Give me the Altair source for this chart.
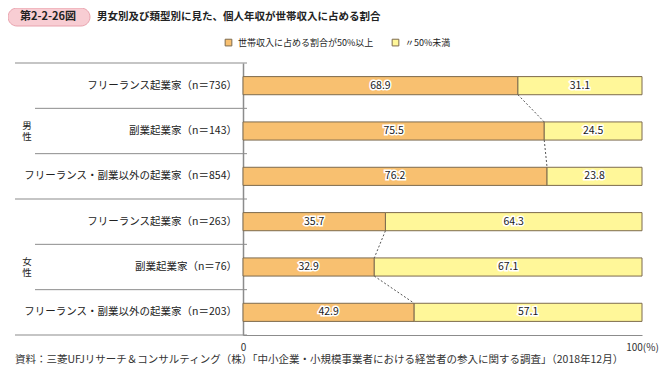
import altair as alt
import pandas as pd

FONT = "Noto Sans CJK JP"

categories = [
    "フリーランス起業家（n＝736）",
    "副業起業家（n＝143）",
    "フリーランス・副業以外の起業家（n＝854）",
    "フリーランス起業家（n＝263）",
    "副業起業家（n＝76）",
    "フリーランス・副業以外の起業家（n＝203）",
]
groups = ["男性", "男性", "男性", "女性", "女性", "女性"]
share_over = [68.9, 75.5, 76.2, 35.7, 32.9, 42.9]
share_under = [31.1, 24.5, 23.8, 64.3, 67.1, 57.1]
series = ["世帯収入に占める割合が50%以上", "〃50%未満"]
colors = ["#F8C070", "#FFF799"]
x_ticks = [0, 100]
title_tag = "第2-2-26図"
title_text = "男女別及び類型別に見た、個人年収が世帯収入に占める割合"
source_text = "資料：三菱UFJリサーチ＆コンサルティング（株）「中小企業・小規模事業者における経営者の参入に関する調査」（2018年12月）"

# ---- tables built from the arrays ----
bar_rows = []
for i, (o, u) in enumerate(zip(share_over, share_under)):
    bar_rows.append(dict(row=i, series=series[0], x0=0.0, x1=o, v=o, mid=o / 2,
                         yt=i + 0.3, yb=i + 0.7, yc=i + 0.5))
    bar_rows.append(dict(row=i, series=series[1], x0=o, x1=o + u, v=u, mid=o + u / 2,
                         yt=i + 0.3, yb=i + 0.7, yc=i + 0.5))
bars_df = pd.DataFrame(bar_rows)

cat_df = pd.DataFrame({"cat": categories, "yc": [i + 0.5 for i in range(len(categories))]})

conn = []
for i in range(len(share_over) - 1):
    if groups[i] == groups[i + 1]:
        conn.append(dict(xa=share_over[i], xb=share_over[i + 1], ya=i + 0.7, yb=i + 1.3))
conn_df = pd.DataFrame(conn)

group_names = list(dict.fromkeys(groups))
grp_df = pd.DataFrame({
    "g": ["\n".join(list(g)) for g in group_names],
    "yc": [sum(i for i, x in enumerate(groups) if x == g) / groups.count(g) + 0.4 for g in group_names],
})

major_b, minor_b = [0], []
for i in range(1, len(groups)):
    (major_b if groups[i] != groups[i - 1] else minor_b).append(i)
major_b.append(len(groups))
major_df = pd.DataFrame({"yy": major_b})
minor_df = pd.DataFrame({"yy": minor_b})

yscale = alt.Scale(domain=[0, len(categories)], reverse=True, nice=False, zero=False)
xscale = alt.Scale(domain=[0, 100], nice=False)

x_axis = alt.Axis(values=x_ticks, grid=False, ticks=False, labelFlush=False,
                  labelExpr="datum.value == 100 ? '100(%)' : '0'",
                  domainColor="#8c8c8c", domainWidth=1.2, title=None,
                  labelFont=FONT, labelFontSize=10, labelColor="#333",
                  labelPadding=7)
y_axis = alt.Axis(labels=False, ticks=False, grid=False, title=None,
                  domainColor="#8c8c8c", domainWidth=1.5)


def X(f):
    return alt.X(f, scale=xscale, axis=x_axis)


def Y(f):
    return alt.Y(f, scale=yscale, axis=y_axis)


bars = alt.Chart(bars_df).mark_bar(stroke="#7d6b4e", strokeWidth=1).encode(
    x=X("x0:Q"), x2="x1:Q",
    y=Y("yt:Q"), y2="yb:Q",
    color=alt.Color("series:N", scale=alt.Scale(domain=series, range=colors),
                    legend=alt.Legend(orient="none", legendX=-19, legendY=-25,
                                      direction="horizontal", title=None,
                                      symbolType="square", symbolSize=45,
                                      symbolStrokeColor="#7d6b4e", symbolStrokeWidth=1,
                                      labelFont=FONT, labelFontSize=9, labelColor="#222",
                                      columnPadding=16, labelOffset=5)),
)

val_halo = alt.Chart(bars_df).mark_text(font=FONT, fontSize=10.5, stroke="white",
                                        strokeWidth=3, color="white").encode(
    x=X("mid:Q"), y=Y("yc:Q"), text=alt.Text("v:Q", format=".1f"),
)
val_txt = alt.Chart(bars_df).mark_text(font=FONT, fontSize=10.5, color="#1a1a1a").encode(
    x=X("mid:Q"), y=Y("yc:Q"), text=alt.Text("v:Q", format=".1f"),
)

connectors = alt.Chart(conn_df).mark_rule(color="#555", strokeDash=[2, 2], strokeWidth=1).encode(
    x=X("xa:Q"), x2="xb:Q", y=Y("ya:Q"), y2="yb:Q",
)

major_rules = alt.Chart(major_df).mark_rule(color="#8c8c8c", strokeWidth=1.2).encode(
    y=Y("yy:Q"), x=alt.value(-228), x2=alt.value(4),
)
minor_rules = alt.Chart(minor_df).mark_rule(color="#8c8c8c", strokeWidth=1).encode(
    y=Y("yy:Q"), x=alt.value(-208), x2=alt.value(4),
)

cat_text = alt.Chart(cat_df).mark_text(font=FONT, fontSize=10.5, align="right",
                                       color="#222").encode(
    y=Y("yc:Q"), x=alt.value(-6), text="cat:N",
)

grp_text = alt.Chart(grp_df).mark_text(font=FONT, fontSize=9.5, align="center",
                                       lineBreak="\n", lineHeight=11, color="#222").encode(
    y=Y("yc:Q"), x=alt.value(-216), text="g:N",
)

tag_box = alt.Chart(pd.DataFrame({"a": [0]})).mark_rect(
    fill="#F8CDD3", stroke="#E9A3AE", strokeWidth=1, cornerRadius=9
).encode(x=alt.value(-235), x2=alt.value(-153), y=alt.value(-55), y2=alt.value(-37))

tag_text = alt.Chart(pd.DataFrame({"t": [title_tag]})).mark_text(
    font=FONT, fontSize=11, fontWeight="bold", color="#222", align="center", baseline="middle"
).encode(x=alt.value(-195), y=alt.value(-46), text="t:N")

title_mark = alt.Chart(pd.DataFrame({"t": [title_text]})).mark_text(
    font=FONT, fontSize=10.5, fontWeight="bold", color="#222", align="left", baseline="middle"
).encode(x=alt.value(-146), y=alt.value(-46), text="t:N")

source_mark = alt.Chart(pd.DataFrame({"t": [source_text]})).mark_text(
    font=FONT, fontSize=10.5, color="#333", align="left", baseline="middle"
).encode(x=alt.value(-228), y=alt.value(297), text="t:N")

chart = alt.layer(
    major_rules, minor_rules, bars, connectors, val_halo, val_txt, cat_text, grp_text,
    tag_box, tag_text, title_mark, source_mark,
).properties(
    width=399, height=272,
    autosize=alt.AutoSizeParams(type="none"),
    padding={"left": 235, "top": 55, "right": 17, "bottom": 30},
).configure_view(stroke=None)

chart.save("out.html", embed_options={"renderer": "svg", "actions": False})
